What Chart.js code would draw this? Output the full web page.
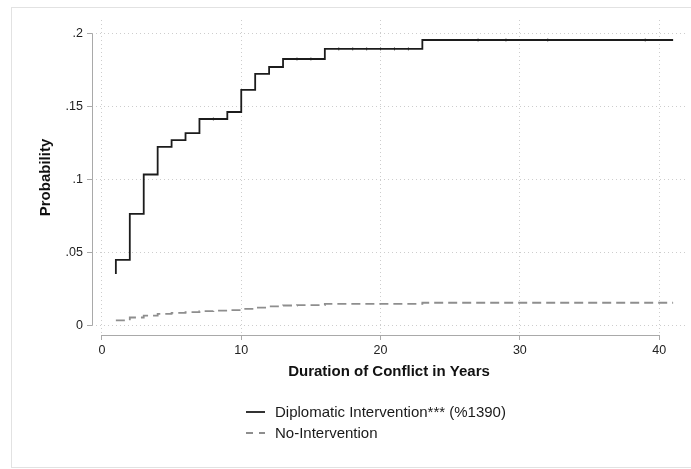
<!DOCTYPE html>
<html>
<head>
<meta charset="utf-8">
<script src="https://cdn.jsdelivr.net/npm/chart.js@4.4.1/dist/chart.umd.min.js"></script>
<style>
  html, body { margin: 0; padding: 0; background: #fff; }
  #wrap { position: relative; width: 691px; height: 469px; overflow: hidden; font-family: "Liberation Sans", Arial, sans-serif; }
  #frame { position: absolute; left: 11px; top: 7px; width: 700px; height: 461px; border: 1px solid #e2e2e2; box-sizing: border-box; }
  #chart { position: absolute; left: 0; top: 0; }
  #legend { position: absolute; left: 246px; top: 401px; font-size: 15px; color: #1a1a1a; }
  #legend .item { display: flex; align-items: center; height: 21px; white-space: nowrap; }
  #legend svg { margin-right: 10px; }
</style>
</head>
<body>
<div id="wrap">
  <div id="frame"></div>
  <canvas id="chart" width="691" height="469"></canvas>
  <div id="legend"></div>
</div>
<script>
// Cumulative probability, step curves
const diploYears = [1, 1, 2, 3, 4, 5, 6, 7, 9, 10, 11, 12, 13, 16, 23, 41];
const diploProb = [0.0353, 0.0449, 0.0764, 0.1034, 0.1223, 0.1270, 0.1318, 0.1414, 0.1462, 0.1613, 0.1723, 0.1770, 0.1825, 0.1894, 0.1955, 0.1955];

const noIntYears = [1, 2, 3, 4, 5, 6, 7, 8, 9, 10, 11, 12, 13, 14, 16, 23, 41];
const noIntProb = [0.0035, 0.0055, 0.0068, 0.0080, 0.0087, 0.0092, 0.0098, 0.0102, 0.0106, 0.0114, 0.0123, 0.0131, 0.0137, 0.0140, 0.0148, 0.0156, 0.0156];

// censoring marks on the diplomatic curve
const censorYears = [8, 14, 15, 17, 18, 19, 20, 21, 22, 27, 29, 32, 39];
const censorProb = [0.1414, 0.1825, 0.1825, 0.1894, 0.1894, 0.1894, 0.1894, 0.1894, 0.1894, 0.1955, 0.1955, 0.1955, 0.1955];

const xTicks = [0, 10, 20, 30, 40];
const yTicks = [0, 0.05, 0.1, 0.15, 0.2];
const yTickLabels = ['0', '.05', '.1', '.15', '.2'];

const seriesLabels = ['Diplomatic Intervention*** (%1390)', 'No-Intervention'];

function toPoints(xs, ys) {
    return xs.map((x, i) => ({ x: x, y: ys[i] }));
}

// Stata style axis lines that only span the tick range
const axisLines = {
    id: 'axisLines',
    beforeDatasetsDraw(chart) {
        const ctx = chart.ctx;
        const x = chart.scales.x;
        const y = chart.scales.y;
        const area = chart.chartArea;
        ctx.save();
        ctx.strokeStyle = '#a9a9a9';
        ctx.lineWidth = 1;
        ctx.beginPath();
        ctx.moveTo(x.getPixelForValue(xTicks[0]), area.bottom + 0.5);
        ctx.lineTo(x.getPixelForValue(xTicks[xTicks.length - 1]), area.bottom + 0.5);
        ctx.moveTo(area.left + 0.5, y.getPixelForValue(yTicks[0]));
        ctx.lineTo(area.left + 0.5, y.getPixelForValue(yTicks[yTicks.length - 1]));
        ctx.stroke();
        ctx.restore();
    }
};

const font = { family: '"Liberation Sans", Arial, sans-serif' };

const chart = new Chart(document.getElementById('chart'), {
    type: 'line',
    data: {
        datasets: [{
            label: seriesLabels[0],
            data: toPoints(diploYears, diploProb),
            borderColor: '#1c1c1c',
            borderWidth: 1.8,
            stepped: true,
            pointRadius: 0,
            fill: false
        }, {
            label: seriesLabels[1],
            data: toPoints(noIntYears, noIntProb),
            borderColor: '#8e8e8e',
            borderWidth: 1.8,
            borderDash: [9, 5],
            stepped: true,
            pointRadius: 0,
            fill: false
        }, {
            label: 'censored',
            data: toPoints(censorYears, censorProb),
            showLine: false,
            pointStyle: 'line',
            rotation: 90,
            pointRadius: 1.5,
            borderColor: '#555',
            borderWidth: 1
        }]
    },
    options: {
        responsive: false,
        animation: false,
        layout: { padding: { top: 20, right: 1, left: 0, bottom: 0 } },
        plugins: {
            legend: { display: false },
            tooltip: { enabled: false }
        },
        scales: {
            x: {
                type: 'linear',
                min: -0.713,
                max: 41.925,
                afterBuildTicks: s => { s.ticks = xTicks.map(v => ({ value: v })); },
                afterFit: s => { s.height = 134; },
                border: { display: false, dash: [1, 3] },
                grid: {
                    color: '#cdcdcd',
                    borderDash: [1, 3],
                    tickColor: '#a9a9a9',
                    tickBorderDash: [],
                    tickLength: 5
                },
                ticks: {
                    color: '#222',
                    padding: 3,
                    maxRotation: 0,
                    font: Object.assign({ size: 12.5 }, font)
                },
                title: {
                    display: true,
                    text: 'Duration of Conflict in Years',
                    color: '#111',
                    font: Object.assign({ size: 15, weight: 'bold' }, font),
                    padding: { top: 0, bottom: 88 }
                }
            },
            y: {
                min: -0.0065,
                max: 0.2092,
                afterBuildTicks: s => { s.ticks = yTicks.map(v => ({ value: v })); },
                afterFit: s => { s.width = 92; },
                border: { display: false, dash: [1, 3] },
                grid: {
                    color: '#cdcdcd',
                    borderDash: [1, 3],
                    tickColor: '#a9a9a9',
                    tickBorderDash: [],
                    tickLength: 5
                },
                ticks: {
                    color: '#222',
                    padding: 4,
                    font: Object.assign({ size: 12.5 }, font),
                    callback: (v) => yTickLabels[yTicks.indexOf(v)]
                },
                title: {
                    display: true,
                    text: 'Probability',
                    color: '#111',
                    font: Object.assign({ size: 15, weight: 'bold' }, font),
                    padding: { top: 37, bottom: 0 }
                }
            }
        }
    },
    plugins: [axisLines]
});

// legend below the axis title, one entry per line
const legendBox = document.getElementById('legend');
chart.data.datasets.slice(0, 2).forEach(ds => {
    const item = document.createElement('div');
    item.className = 'item';
    item.innerHTML =
        '<svg width="19" height="4"><line x1="0" y1="2" x2="19" y2="2" stroke="' + ds.borderColor +
        '" stroke-width="1.8" stroke-dasharray="' + (ds.borderDash ? '7 6' : 'none') + '"/></svg>' +
        '<span></span>';
    item.querySelector('span').textContent = ds.label;
    legendBox.appendChild(item);
});
</script>
</body>
</html>
